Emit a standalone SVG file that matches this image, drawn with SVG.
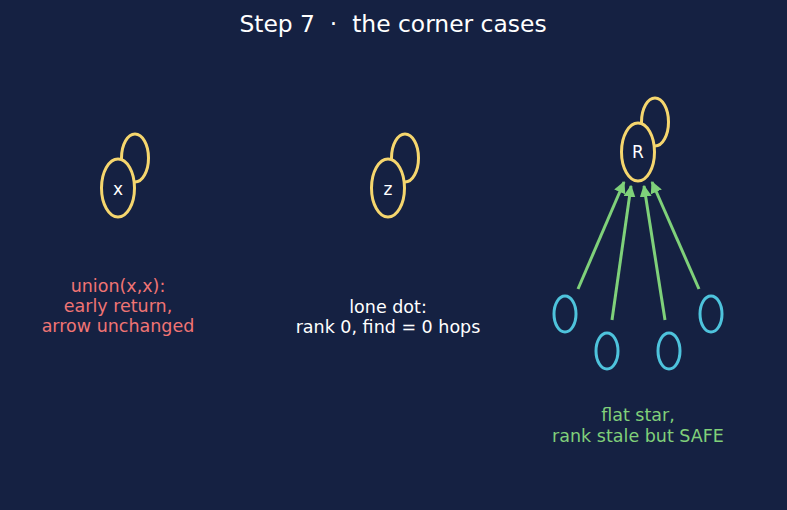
<svg xmlns="http://www.w3.org/2000/svg" width="787" height="510" viewBox="0 0 787 510">
<defs>
<marker id="ah" viewBox="0 0 10 10" refX="9" refY="5" markerWidth="4" markerHeight="4" orient="auto" markerUnits="strokeWidth">
<path d="M0,0 L10,5 L0,10 z" fill="#7fd17a"/>
</marker>
<style>
text{font-family:"DejaVu Sans",sans-serif;text-anchor:middle}
.title{font-size:23.4px;fill:#ffffff;white-space:pre}
.lbl{font-size:17.5px}
.nlbl{font-size:17px;fill:#ffffff;dominant-baseline:central}
.main{fill:#152142;stroke:#f5d66e;stroke-width:3}
.loop{fill:none;stroke:#f5d66e;stroke-width:3}
.leaf{fill:none;stroke:#4ec3dc;stroke-width:3}
.edge{stroke:#7fd17a;stroke-width:3;fill:none;marker-end:url(#ah)}
</style>
</defs>
<rect width="787" height="510" fill="#152142"/>
<text class="title" x="393" y="32" xml:space="preserve">Step 7  ·  the corner cases</text>
<g id="node-x">
<ellipse class="loop" cx="135" cy="158" rx="13.5" ry="24"/>
<ellipse class="main" cx="118" cy="188" rx="16.5" ry="29"/>
<text class="nlbl" x="118" y="189">x</text>
</g>
<g id="node-z">
<ellipse class="loop" cx="405" cy="158" rx="13.5" ry="24"/>
<ellipse class="main" cx="388" cy="188" rx="16.5" ry="29"/>
<text class="nlbl" x="388" y="189">z</text>
</g>
<g id="node-R">
<ellipse class="loop" cx="655" cy="122" rx="13.5" ry="24"/>
<ellipse class="main" cx="638" cy="152" rx="16.5" ry="29"/>
<text class="nlbl" x="638" y="152">R</text>
</g>
<g id="leaf-1"><ellipse class="leaf" cx="565" cy="314" rx="11" ry="18"/></g>
<g id="leaf-2"><ellipse class="leaf" cx="607" cy="351" rx="11" ry="18"/></g>
<g id="leaf-3"><ellipse class="leaf" cx="669" cy="351" rx="11" ry="18"/></g>
<g id="leaf-4"><ellipse class="leaf" cx="711" cy="314" rx="11" ry="18"/></g>
<g id="connectors">
<line class="edge" x1="578" y1="289" x2="624" y2="182"/>
<line class="edge" x1="612" y1="320" x2="631" y2="186"/>
<line class="edge" x1="665" y1="320" x2="644" y2="186"/>
<line class="edge" x1="699" y1="289" x2="652" y2="182"/>
</g>
<g id="label-x" class="lbl" fill="#f07474">
<text x="118" y="292">union(x,x):</text>
<text x="118" y="312">early return,</text>
<text x="118" y="332">arrow unchanged</text>
</g>
<g id="label-z" class="lbl" fill="#ffffff">
<text x="388" y="313">lone dot:</text>
<text x="388" y="333">rank 0, find = 0 hops</text>
</g>
<g id="label-R" class="lbl" fill="#80d07a">
<text x="638" y="421">flat star,</text>
<text x="638" y="442">rank stale but SAFE</text>
</g>
</svg>
